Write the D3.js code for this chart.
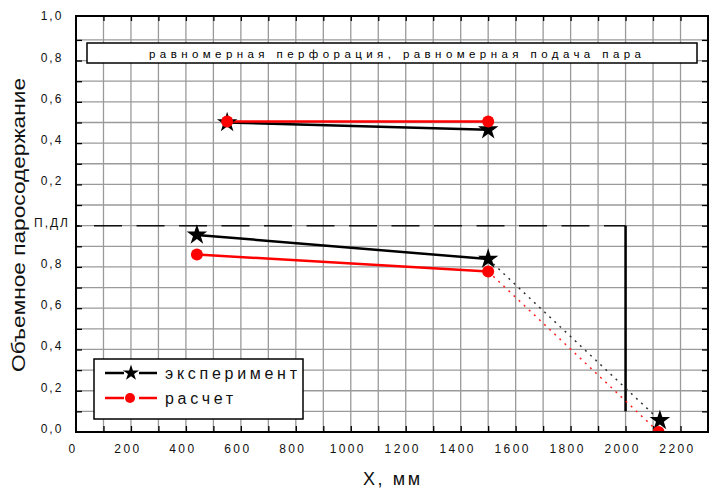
<!DOCTYPE html>
<html><head><meta charset="utf-8">
<script src="https://cdn.jsdelivr.net/npm/d3@7/dist/d3.min.js"></script>
<style>body{margin:0;background:#fff}svg{display:block}text{font-family:"Liberation Sans",Arial,sans-serif}</style>
</head><body><svg id="c" width="710" height="494"></svg>
<script>
// Data (upper-panel values are read on the upper axis, drawn with offset 1.0)
const xTicks = [0,200,400,600,800,1000,1200,1400,1600,1800,2000,2200];
const yTickLabels = ["0,0","0,2","0,4","0,6","0,8","П,ДЛ","0,2","0,4","0,6","0,8","1,0"];
const upperOffset = 1.0;
const expUpperX = [550, 1500];
const expUpperY = [0.50, 0.465];
const calcUpperX = [550, 1500];
const calcUpperY = [0.505, 0.505];
const expLowerX = [440, 1500];
const expLowerY = [0.955, 0.838];
const calcLowerX = [440, 1500];
const calcLowerY = [0.86, 0.778];
const expTailX = [1500, 2125];
const expTailY = [0.838, 0.056];
const calcTailX = [1500, 2120];
const calcTailY = [0.778, 0.0];
const pdlX = [0, 2000];
const pdlY = 1.0;
const wallX = 2000;
const wallY = [1.0, 0.1];
const titleText = "равномерная перфорация, равномерная подача пара";
const legendLabels = ["эксперимент", "расчет"];

const svg = d3.select("#c");
const L = 76, R = 708, T = 16, B = 432;
const x = d3.scaleLinear().domain([0, 2300]).range([L, R]);
const y = d3.scaleLinear().domain([0, 2.016]).range([B, T]);
const pts = (xs, ys, off=0) => xs.map((v,i)=>[x(v), y(ys[i]+off)]);

// grid
const g = svg.append("g");
d3.range(100, 2300, 100).forEach(v => g.append("line").attr("x1", x(v)).attr("x2", x(v)).attr("y1", T).attr("y2", B).attr("stroke", "#9a9a9a").attr("stroke-width", 1.3));
d3.range(1, 20).forEach(i => { const v = i/10; g.append("line").attr("x1", L).attr("x2", R).attr("y1", y(v)).attr("y2", y(v)).attr("stroke", "#9a9a9a").attr("stroke-width", 1.3); });

// axes ticks (inward)
const styleTicks = s => { s.select(".domain").remove(); s.selectAll("line").attr("stroke", "#000").attr("stroke-width", 1.3); };
svg.append("g").attr("transform", `translate(0,${B})`).call(d3.axisTop(x).tickValues(d3.range(100, 2300, 100)).tickSize(6).tickFormat("")).call(styleTicks);
svg.append("g").attr("transform", `translate(${L},0)`).call(d3.axisRight(y).tickValues(d3.range(1, 20).map(i=>i/10)).tickSize(6).tickFormat("")).call(styleTicks);
svg.append("g").attr("transform", `translate(${R},0)`).call(d3.axisLeft(y).tickValues(d3.range(1, 20).map(i=>i/10)).tickSize(6).tickFormat("")).call(styleTicks);
svg.append("g").attr("transform", `translate(0,${T})`).call(d3.axisBottom(x).tickValues(d3.range(100, 2300, 100)).tickSize(5).tickFormat("")).call(styleTicks);

// tick labels
xTicks.forEach(v => svg.append("text").attr("x", x(v) - 3).attr("y", 453).attr("text-anchor", "middle")
  .attr("font-size", 12).attr("letter-spacing", "2.4px").attr("fill", "#111").text(v));
yTickLabels.forEach((t, i) => svg.append("text").attr("x", 52).attr("y", y(i*0.2) + 1).attr("text-anchor", "middle")
  .attr("font-size", 12).attr("letter-spacing", "2px").attr("fill", "#111").text(t));

// title box
svg.append("rect").attr("x", 87).attr("y", 43).attr("width", 610).attr("height", 20).attr("fill", "#fff").attr("stroke", "#000").attr("stroke-width", 1.5);
svg.append("text").attr("x", 149).attr("y", 58).attr("font-size", 11.5).attr("textLength", 492).attr("lengthAdjust", "spacing").attr("fill", "#000").text(titleText);

// clip
svg.append("clipPath").attr("id", "clip").append("rect").attr("x", L).attr("y", T).attr("width", R-L).attr("height", B-T);
const p = svg.append("g").attr("clip-path", "url(#clip)");
const line = d3.line();

// ПДЛ dashed line and wall
p.append("path").attr("d", line([[x(pdlX[0]), y(pdlY)], [x(pdlX[1]), y(pdlY)]])).attr("stroke", "#111").attr("stroke-width", 1.5)
  .attr("stroke-dasharray", "28,14.5").attr("stroke-dashoffset", 24.5).attr("fill", "none");
p.append("path").attr("d", line([[x(wallX), y(wallY[0])], [x(wallX), y(wallY[1])]])).attr("stroke", "#000").attr("stroke-width", 2.5);

// dotted tails
p.append("path").attr("d", line(pts(expTailX, expTailY))).attr("stroke", "#333").attr("stroke-width", 1.5).attr("stroke-dasharray", "2,5").attr("fill", "none");
p.append("path").attr("d", line(pts(calcTailX, calcTailY))).attr("stroke", "#f22").attr("stroke-width", 1.5).attr("stroke-dasharray", "2,5").attr("fill", "none");

// solid lines
p.append("path").attr("d", line(pts(expUpperX, expUpperY, upperOffset))).attr("stroke", "#000").attr("stroke-width", 2.5).attr("fill", "none");
p.append("path").attr("d", line(pts(calcUpperX, calcUpperY, upperOffset))).attr("stroke", "#f00").attr("stroke-width", 2.5).attr("fill", "none");
p.append("path").attr("d", line(pts(expLowerX, expLowerY))).attr("stroke", "#000").attr("stroke-width", 2.5).attr("fill", "none");
p.append("path").attr("d", line(pts(calcLowerX, calcLowerY))).attr("stroke", "#f00").attr("stroke-width", 2.5).attr("fill", "none");

const dot = (g, xy, r) => g.append("circle").attr("cx", xy[0]).attr("cy", xy[1]).attr("r", r).attr("fill", "#f00");
const st = (g, xy, s) => g.append("path").attr("d", d3.symbol().type(d3.symbolStar).size(s)()).attr("transform", `translate(${xy[0]},${xy[1]})`).attr("fill", "#000");

// markers
pts(expUpperX, expUpperY, upperOffset).forEach(d => st(p, d, 130));
pts(calcUpperX, calcUpperY, upperOffset).forEach(d => dot(p, d, 6));
pts(expLowerX, expLowerY).forEach(d => st(p, d, 130));
pts(expTailX, expTailY).slice(1).forEach(d => st(p, d, 130));
pts(calcLowerX, calcLowerY).forEach(d => dot(p, d, 6));
pts(calcTailX, calcTailY).slice(1).forEach(d => dot(p, d, 6));

// frame
svg.append("rect").attr("x", L).attr("y", T).attr("width", R-L).attr("height", B-T).attr("fill", "none").attr("stroke", "#000").attr("stroke-width", 2);

// legend
const lg = svg.append("g");
lg.append("rect").attr("x", 94).attr("y", 359).attr("width", 209).attr("height", 60).attr("fill", "#fff").attr("stroke", "#000").attr("stroke-width", 1.5);
[[373, "#000"], [398, "#f00"]].forEach(([ly, c]) => {
  lg.append("line").attr("x1", 105).attr("x2", 124).attr("y1", ly).attr("y2", ly).attr("stroke", c).attr("stroke-width", 2.5);
  lg.append("line").attr("x1", 139).attr("x2", 157).attr("y1", ly).attr("y2", ly).attr("stroke", c).attr("stroke-width", 2.5);
});
st(lg, [131, 373], 80);
dot(lg, [130, 398], 5);
lg.append("text").attr("x", 165).attr("y", 379).attr("font-size", 16).attr("textLength", 132).attr("lengthAdjust", "spacing").attr("fill", "#111").text(legendLabels[0]);
lg.append("text").attr("x", 165).attr("y", 404).attr("font-size", 16).attr("textLength", 68).attr("lengthAdjust", "spacing").attr("fill", "#111").text(legendLabels[1]);

// axis titles
svg.append("text").attr("transform", "translate(25,372) rotate(-90)").attr("font-size", 19).attr("textLength", 294).attr("lengthAdjust", "spacingAndGlyphs").attr("fill", "#111").text("Объемное паросодержание");
svg.append("text").attr("x", 363).attr("y", 485).attr("font-size", 18).attr("textLength", 57).attr("lengthAdjust", "spacing").attr("fill", "#111").text("X, мм");
</script></body></html>
